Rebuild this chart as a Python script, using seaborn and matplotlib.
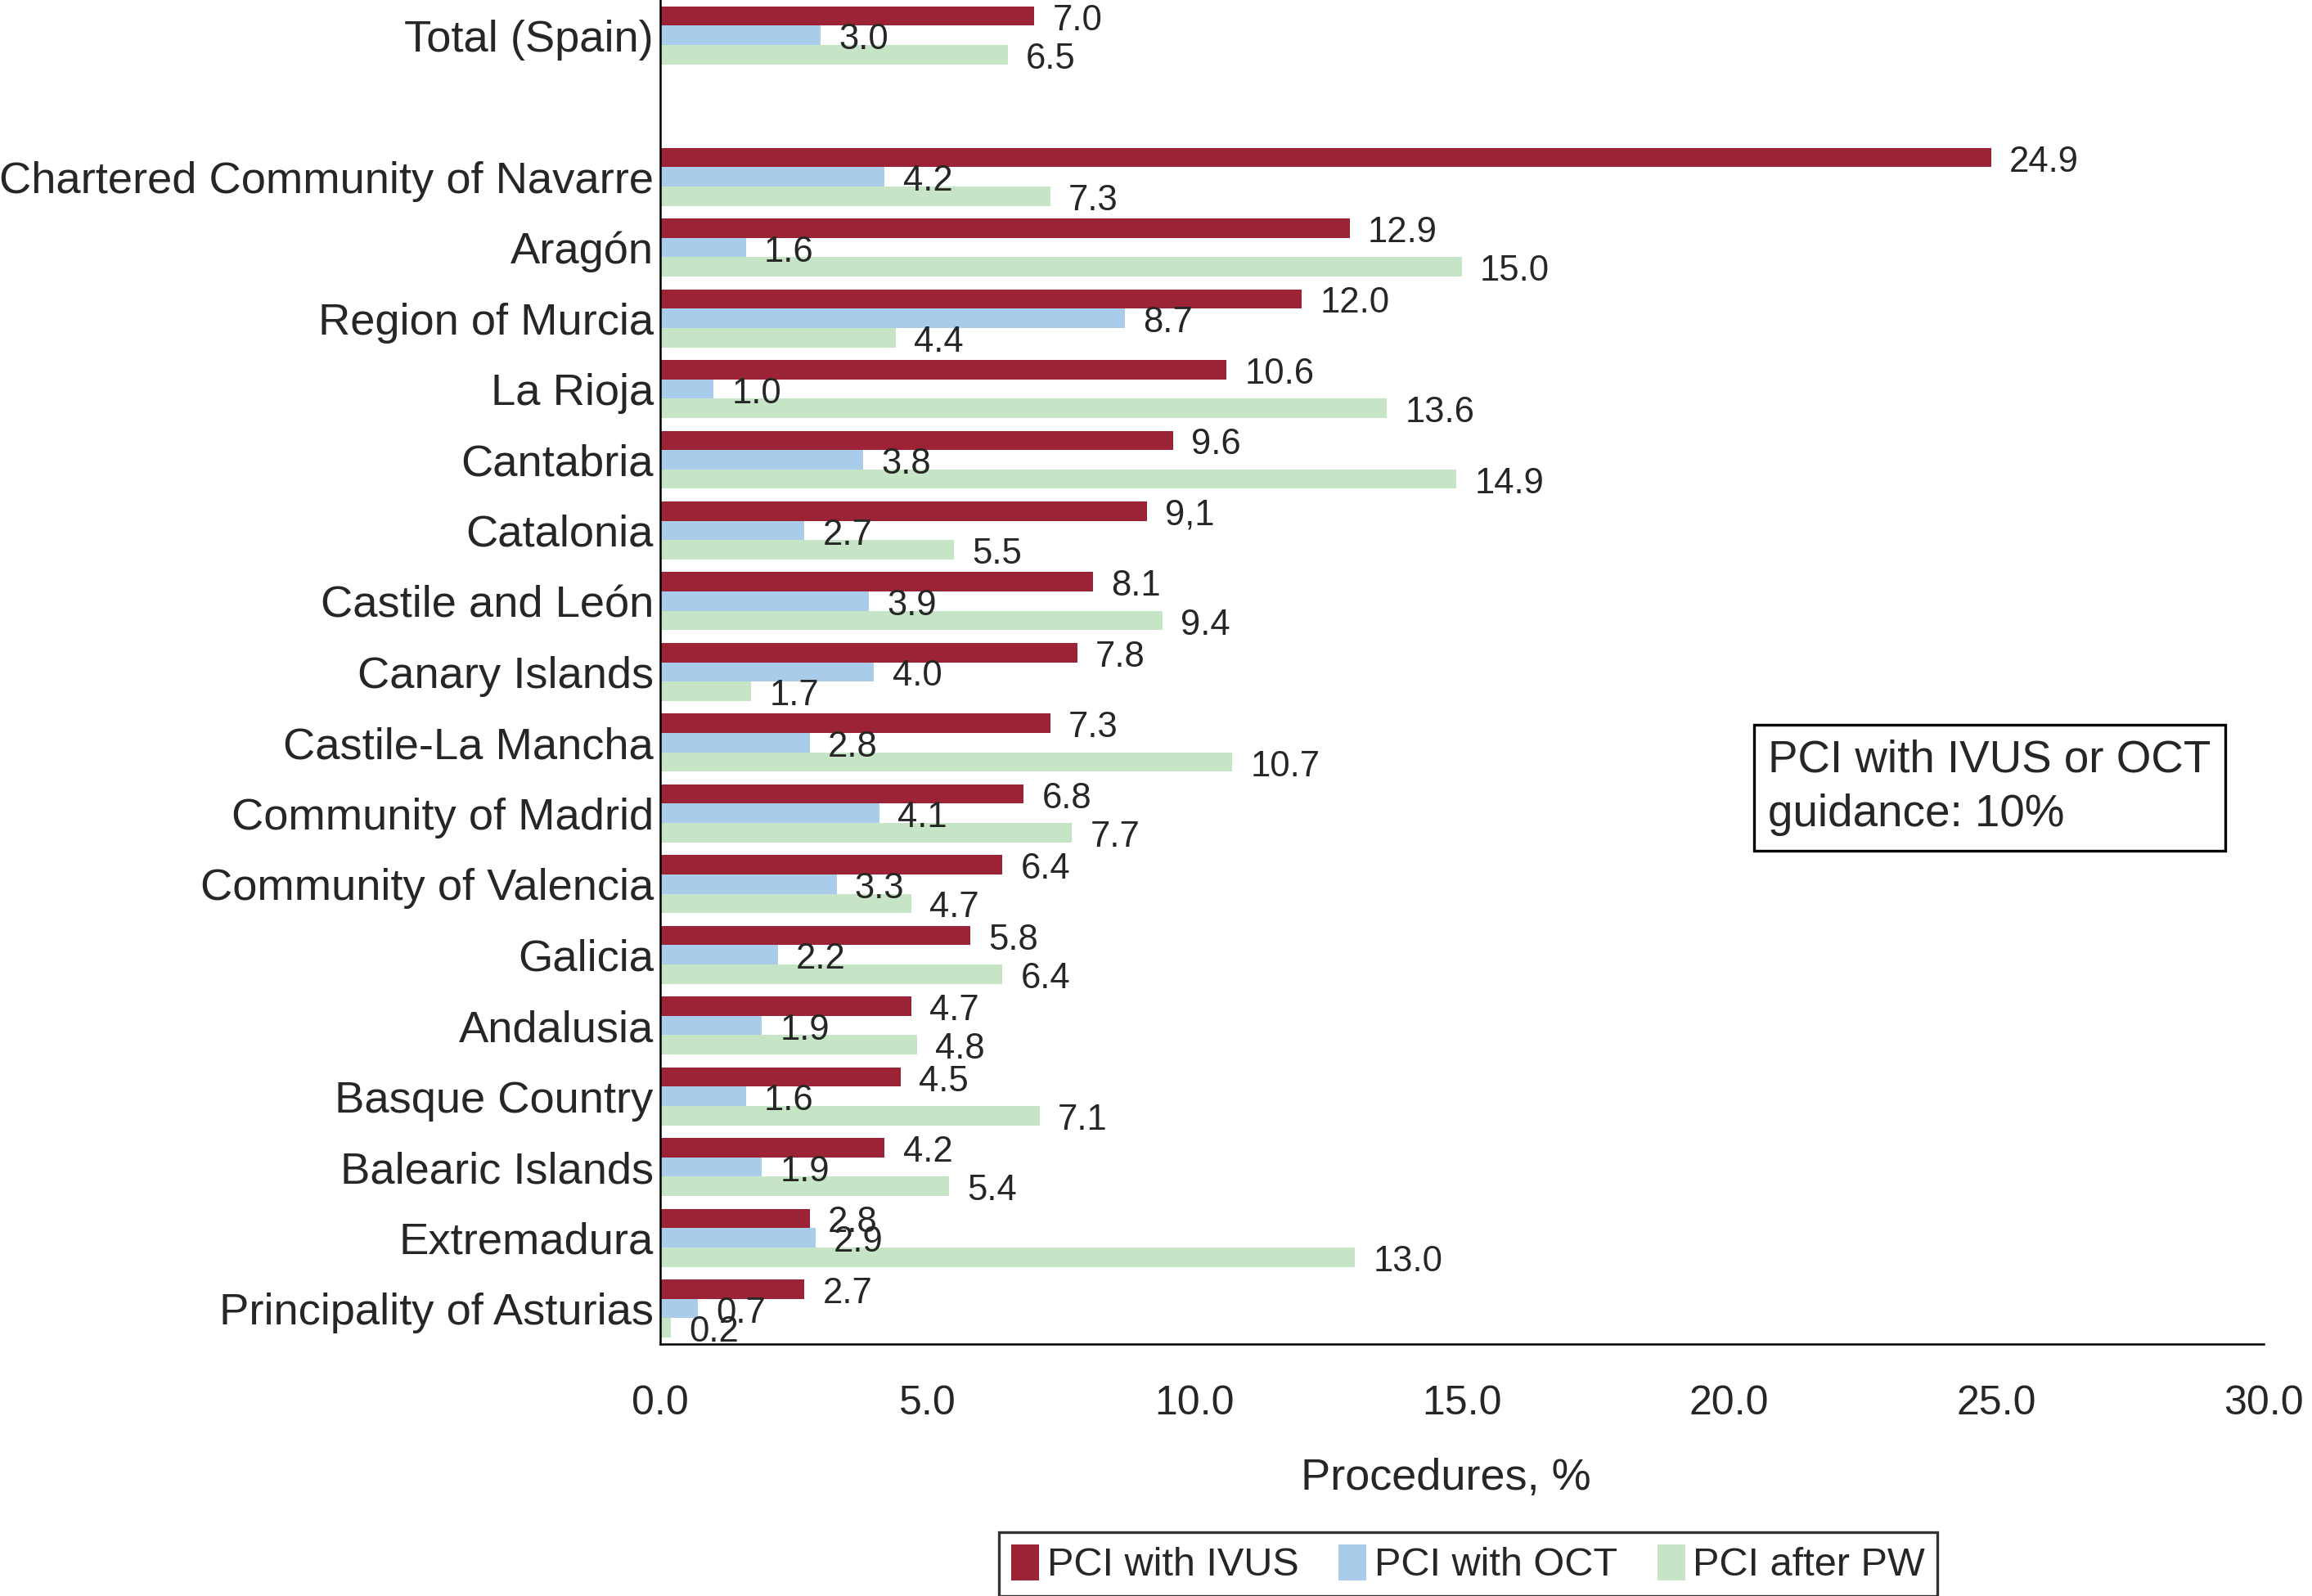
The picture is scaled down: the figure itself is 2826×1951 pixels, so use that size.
import matplotlib
matplotlib.use("Agg")
import matplotlib.pyplot as plt
import seaborn as sns
import pandas as pd
import numpy as np

# Data
regions = [
    "Total (Spain)", " ",
    "Chartered Community of Navarre", "Aragón", "Region of Murcia", "La Rioja",
    "Cantabria", "Catalonia", "Castile and León", "Canary Islands",
    "Castile-La Mancha", "Community of Madrid", "Community of Valencia",
    "Galicia", "Andalusia", "Basque Country", "Balearic Islands",
    "Extremadura", "Principality of Asturias",
]
ivus = [7.0, np.nan, 24.9, 12.9, 12.0, 10.6, 9.6, 9.1, 8.1, 7.8, 7.3, 6.8, 6.4,
        5.8, 4.7, 4.5, 4.2, 2.8, 2.7]
oct_ = [3.0, np.nan, 4.2, 1.6, 8.7, 1.0, 3.8, 2.7, 3.9, 4.0, 2.8, 4.1, 3.3,
        2.2, 1.9, 1.6, 1.9, 2.9, 0.7]
pw = [6.5, np.nan, 7.3, 15.0, 4.4, 13.6, 14.9, 5.5, 9.4, 1.7, 10.7, 7.7, 4.7,
      6.4, 4.8, 7.1, 5.4, 13.0, 0.2]
series = ["PCI with IVUS", "PCI with OCT", "PCI after PW"]
x_ticks = [0, 5, 10, 15, 20, 25, 30]

colors = ["#9B2335", "#AACCEB", "#C6E4C6"]

df = pd.DataFrame({"region": regions, series[0]: ivus, series[1]: oct_, series[2]: pw})
long = df.melt(id_vars="region", var_name="type", value_name="pct").dropna()

sns.set_style("white")
plt.rcParams["font.family"] = ["Liberation Sans", "DejaVu Sans"]

fig = plt.figure(figsize=(14.13, 9.755), dpi=200)
ax = fig.add_axes([0.2856, 0.158, 0.6934, 0.842])

sns.barplot(data=long, y="region", x="pct", hue="type", order=regions,
            hue_order=series, palette=colors, orient="h", width=0.82,
            saturation=1, linewidth=0, ax=ax, legend=True)

# value labels
for i, cont in enumerate(ax.containers):
    texts = ax.bar_label(cont, fmt="%.1f", padding=8, fontsize=15.7)
    for t in texts:
        # sit a touch below the bar centre, as in the source
        t.set_y(-2)
    if i == 0:
        # the source prints Catalonia with a decimal comma
        present = [r for r, v in zip(regions, ivus) if not np.isnan(v)]
        idx = present.index("Catalonia")
        texts[idx].set_text("9,1")

ax.set_xlim(0, 30)
ax.set_ylim(len(regions) - 0.5, -0.5)
ax.set_xticks(x_ticks)
ax.set_xticklabels([f"{t:.1f}" for t in x_ticks])
ax.tick_params(axis="x", length=0, pad=18, labelsize=18)
ax.tick_params(axis="y", length=0, pad=3, labelsize=19.6)
ax.set_ylabel("")
ax.set_xlabel("Procedures, %", fontsize=19.5, labelpad=15)
ax.xaxis.set_label_coords(0.49, -0.085)

for s in ["top", "right"]:
    ax.spines[s].set_visible(False)
for s in ["left", "bottom"]:
    ax.spines[s].set_color("black")
    ax.spines[s].set_linewidth(0.9)

ax.text(0.691, 0.414, "PCI with IVUS or OCT\nguidance: 10%", transform=ax.transAxes,
        ha="left", va="center", fontsize=19.7, linespacing=1.37,
        bbox=dict(boxstyle="square,pad=0.32", facecolor="white",
                  edgecolor="black", linewidth=1.2))

handles, labels = ax.get_legend_handles_labels()
ax.legend_.remove()
leg = fig.legend(handles, labels, loc="lower center", bbox_to_anchor=(0.635, 0.0),
                 ncol=3, fontsize=17.5, frameon=True, fancybox=False,
                 handlelength=0.7, handleheight=1.0, handletextpad=0.2,
                 columnspacing=1.0, borderpad=0.3, borderaxespad=0)
leg.get_frame().set_edgecolor("black")
leg.get_frame().set_linewidth(1.2)

fig.savefig("out.png", dpi=200)
